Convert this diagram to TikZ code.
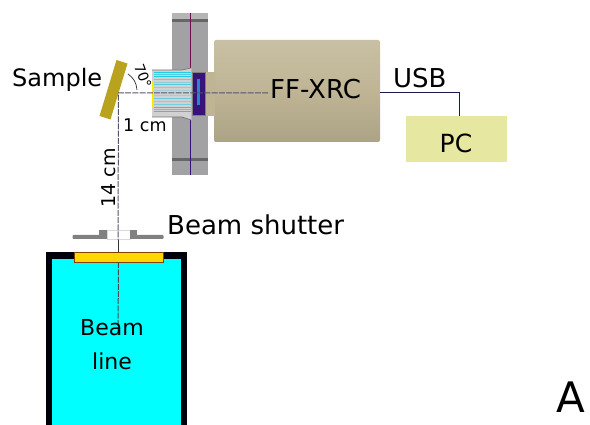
\documentclass[tikz,border=0pt]{standalone}
\usepackage{fontspec}
\setmainfont{DejaVu Sans}
\definecolor{flange}{HTML}{A2A2A4}
\definecolor{camtan}{HTML}{BFB595}
\definecolor{pcgreen}{HTML}{E6E8A2}
\definecolor{samplec}{HTML}{B9A21E}
\definecolor{violet}{HTML}{36127A}
\definecolor{beamc}{HTML}{00FFFF}
\definecolor{goldc}{HTML}{FFD700}
\definecolor{stripe}{HTML}{22CBE6}
\definecolor{beamgray}{HTML}{55556A}
\tikzset{
 lbl/.style={inner sep=0pt,font=\fontsize{#1}{#1}\selectfont},
 lbl/.default=24,
 beam/.style={draw=beamgray,line width=1pt,dash pattern=on 6pt off 1.2pt},
 wire/.style={draw=black!70!blue!80!gray,line width=1pt},
 stripeline/.style={stripe,line width=1pt},
 shutterc/.style={fill=black!50}
}
\begin{document}
\begin{tikzpicture}[x=1pt,y=-1pt]
\useasboundingbox (0,0) rectangle (590,425);
% flange
\fill[flange] (172,13) rectangle (208,175);
\fill[black!15,opacity=.35] (172,13) rectangle (208,19);
\fill[black!60] (172,19.5) rectangle (208,22);
\fill[black!60] (172,158) rectangle (208,161);
% camera
\node[rounded corners=2pt,minimum width=166pt,minimum height=102pt,inner sep=0pt,top color=camtan!85!white,bottom color=camtan!90!black,middle color=camtan] (cam) at (297,91) {};
\fill[camtan] (205,72) rectangle (215,116);
\draw[violet!70!red,line width=.9pt] (190,13) -- (190,70);
\draw[violet,line width=.9pt] (190,118) -- (190,175);
% collimator
\fill[black!18] (152,70) -- (182,70) -- (191,68) -- (192,72) -- (192,115) -- (191,120) -- (182,117) -- (152,117) -- cycle;
\draw[black!55,line width=.7pt] (152,70) -- (182,70) -- (191,68);
\draw[black!55,line width=.7pt] (152,117) -- (182,117) -- (191,120);
\foreach \y/\o in {73/100,75/70,77/100,80/60,83/40,85/70,88/40,91/25,96/30,99/60,102/40,105/50,108/100,110/70,112/100}
  \draw[stripeline,opacity=\o/100] (154,\y) -- (191,\y);
\fill[yellow!90!orange] (151.5,81) rectangle (153.5,107);
\fill[orange!60!yellow] (191,68) rectangle (192,120);
% detector
\node[fill=violet,draw=black!50,line width=.5pt,minimum width=13pt,minimum height=43pt,inner sep=0pt] (det) at (198.5,93.5) {};
\node[fill=cyan!60!blue!90,minimum width=3pt,minimum height=26pt,inner sep=0pt] (bar) at (198,92) {};
% sample
\fill[samplec] (116.5,60) -- (127.5,63.5) -- (110.5,119.5) -- (99.5,116) -- cycle;
% PC
\node[fill=pcgreen,minimum width=101pt,minimum height=46pt,inner sep=0pt] (pc) at (456.5,139) {};
\node[lbl=25] (pclabel) at (456,143) {PC};
% wire
\coordinate (wj) at (459.5,93);
\draw[wire] (cam.east |- wj) -- (wj) -- (wj |- pc.north);
\node[lbl=26,anchor=base west] (usb) at (393,88) {USB};
% beam line
\fill[black!95!blue] (46,252) rectangle (187,425);
\fill[beamc] (52,259) rectangle (181,425);
\node[fill=goldc,draw=black!50!orange,line width=.4pt,minimum width=89pt,minimum height=10pt,inner sep=0pt] (win) at (118.5,257) {};
% shutter
\draw[black!15,line width=.5pt] (107,230.5) rectangle (130,239);
\fill[shutterc,rounded corners=.8pt] (72.5,235) rectangle (104,239);
\fill[shutterc,rounded corners=.8pt] (134,235) rectangle (163.5,239);
\fill[shutterc] (99,230) rectangle (107,239);
\fill[shutterc] (130,230) rectangle (137,239);
% beams
\coordinate (turn) at (118.5,93);
\coordinate (beamend) at (268,93);
\coordinate (bottom) at (118,335);
\draw[beam] (beamend) -- (turn) -- (118,240);
\draw[black!80,line width=1pt] (118,240) -- (118,252);
\draw[beam,draw=black!70] (win.south) -- (bottom);
% angle
\coordinate (a1) at (128,74);
\coordinate (a2) at (137,90);
\draw[black!75,line width=.8pt] (a1) to[bend left=25] (a2);
\node[lbl=14,rotate=-70] (ang) at (143,76) {70°};
% labels
\node[lbl=24,anchor=base west] (sample) at (12,87) {Sample};
\node[lbl=17.5,anchor=base west] (cm1) at (123,132) {1 cm};
\node[lbl=19,rotate=90] (cm14) at (109,178) {14 cm};
\node[lbl=26,anchor=base west] (ff) at (270,99) {FF-XRC};
\node[lbl=26,anchor=base west] (bs) at (167,235) {Beam shutter};
\node[align=center,inner sep=0pt,font=\fontsize{22}{34}\selectfont] (bl) at (112,345) {Beam\\line};
\node[lbl=42,anchor=base west] (A) at (556,412) {A};
\end{tikzpicture}
\end{document}
